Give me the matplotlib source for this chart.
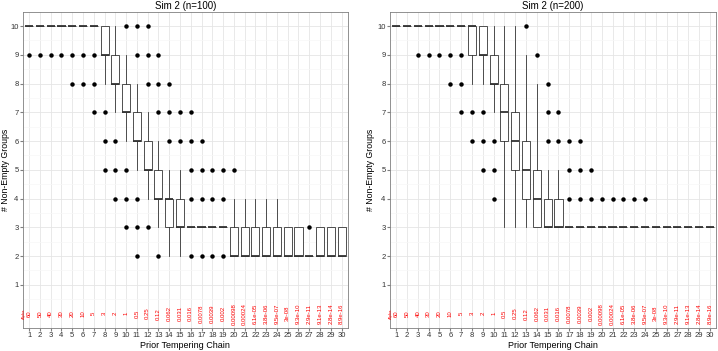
import matplotlib.pyplot as plt
import numpy as np

plt.rcParams['font.family'] = ['Liberation Sans', 'DejaVu Sans']

# chains on the x axis and the prior alpha printed under each of them
chains = list(range(1, 31))
alpha_labels = ['60', '50', '40', '30', '20', '10', '5', '3', '2', '1', '0.5',
                '0.25', '0.12', '0.062', '0.031', '0.016', '0.0078', '0.0039',
                '0.002', '0.00098', '0.00024', '6.1e-05', '3.8e-06', '9.5e-07',
                '3e-08', '9.3e-10', '2.9e-11', '9.1e-13', '2.8e-14', '8.9e-16']

# Sim 2 (n=100): box statistics per chain
q1_100 = [10, 10, 10, 10, 10, 10, 10, 9, 8, 7, 6, 5, 4, 3, 3,
          3, 3, 3, 3, 2, 2, 2, 2, 2, 2, 2, 2, 2, 2, 2]
med_100 = [10, 10, 10, 10, 10, 10, 10, 9, 8, 7, 6, 5, 4, 4, 3,
           3, 3, 3, 3, 2, 2, 2, 2, 2, 2, 2, 2, 2, 2, 2]
q3_100 = [10, 10, 10, 10, 10, 10, 10, 10, 9, 8, 7, 6, 5, 4, 4,
          3, 3, 3, 3, 3, 3, 3, 3, 3, 3, 3, 2, 3, 3, 3]
lo_100 = [10, 10, 10, 10, 10, 10, 10, 8, 7, 6, 5, 4, 3, 2, 2,
          3, 3, 3, 3, 2, 2, 2, 2, 2, 2, 2, 2, 2, 2, 2]
hi_100 = [10, 10, 10, 10, 10, 10, 10, 10, 10, 9, 8, 7, 6, 5, 5,
          3, 3, 3, 3, 4, 4, 4, 4, 4, 3, 3, 2, 3, 3, 3]
out_100 = [[9], [9], [9], [9], [9, 8], [9, 8], [9, 8, 7], [7, 6, 5],
           [6, 5, 4], [10, 5, 4, 3], [10, 9, 4, 3, 2], [10, 9, 8, 3],
           [9, 8, 7, 2], [8, 7, 6], [7, 6], [7, 6, 5, 4, 2], [6, 5, 4, 2],
           [5, 4, 2], [5, 4, 2], [5], [], [], [], [], [], [], [3], [], [], []]

# Sim 2 (n=200)
q1_200 = [10, 10, 10, 10, 10, 10, 10, 9, 9, 8, 6, 5, 4, 3, 3,
          3, 3, 3, 3, 3, 3, 3, 3, 3, 3, 3, 3, 3, 3, 3]
med_200 = [10, 10, 10, 10, 10, 10, 10, 10, 9, 8, 7, 6, 5, 4, 3,
           3, 3, 3, 3, 3, 3, 3, 3, 3, 3, 3, 3, 3, 3, 3]
q3_200 = [10, 10, 10, 10, 10, 10, 10, 10, 10, 9, 8, 7, 6, 5, 4,
          4, 3, 3, 3, 3, 3, 3, 3, 3, 3, 3, 3, 3, 3, 3]
lo_200 = [10, 10, 10, 10, 10, 10, 10, 8, 8, 7, 3, 3, 3, 3, 3,
          3, 3, 3, 3, 3, 3, 3, 3, 3, 3, 3, 3, 3, 3, 3]
hi_200 = [10, 10, 10, 10, 10, 10, 10, 10, 10, 10, 10, 10, 9, 8, 5,
          5, 3, 3, 3, 3, 3, 3, 3, 3, 3, 3, 3, 3, 3, 3]
out_200 = [[], [], [9], [9], [9], [9, 8], [9, 8, 7], [7, 6], [7, 6, 5],
           [6, 5, 4], [], [], [10], [9], [8, 7, 6], [7, 6], [6, 5, 4],
           [6, 5, 4], [5, 4], [4], [4], [4], [4], [4], [], [], [], [], [], []]

panels = [('Sim 2 (n=100)', q1_100, med_100, q3_100, lo_100, hi_100, out_100),
          ('Sim 2 (n=200)', q1_200, med_200, q3_200, lo_200, hi_200, out_200)]

fig = plt.figure(figsize=(7.18, 3.51), dpi=100)
rects = [[0.0316, 0.0655, 0.4531, 0.9012], [0.5428, 0.0655, 0.4549, 0.9012]]
ylab_x = [-0.038, -0.045]

for rect, lx, (title, q1, med, q3, lo, hi, out) in zip(rects, ylab_x, panels):
    ax = fig.add_axes(rect)
    stats = []
    for i in range(len(chains)):
        stats.append(dict(q1=q1[i], med=med[i], q3=q3[i], whislo=lo[i],
                          whishi=hi[i], fliers=out[i]))
    ax.bxp(stats, positions=chains, widths=0.75, showcaps=False,
           patch_artist=True,
           boxprops=dict(facecolor='white', edgecolor='#333333', linewidth=0.6),
           whiskerprops=dict(color='#333333', linewidth=0.6),
           medianprops=dict(color='#333333', linewidth=1.3),
           flierprops=dict(marker='o', markersize=2.2, markerfacecolor='black',
                           markeredgecolor='black'),
           zorder=3)

    # alpha values written under the boxes
    for c, lab in zip(chains, alpha_labels):
        ax.text(c, 0, lab, rotation=90, ha='center', va='center',
                color='red', fontsize=4.3)
    ax.text(0.55, 0, 'Alpha', rotation=90, ha='center', va='center',
            color='red', fontsize=3)

    ax.set_xlim(0.4, 30.6)
    ax.set_ylim(-0.5, 10.5)
    ax.set_xticks(chains)
    ax.set_xticklabels([str(c) for c in chains])
    ax.set_yticks(range(1, 11))
    ax.set_yticks(np.arange(0.5, 10.5, 1), minor=True)
    ax.grid(True, which='major', color='#e5e5e5', linewidth=0.6, zorder=0)
    ax.grid(True, which='minor', axis='y', color='#f7f7f7', linewidth=0.5, zorder=0)
    ax.set_axisbelow(True)
    ax.tick_params(which='major', length=2, color='#7f7f7f', labelsize=5.5,
                   pad=1, labelcolor='#333333')
    ax.tick_params(which='minor', length=0)
    for s in ax.spines.values():
        s.set_color('#7f7f7f')
        s.set_linewidth(0.6)
    ax.set_title(title, fontsize=7, pad=2)
    ax.set_xlabel('Prior Tempering Chain', fontsize=6.5, labelpad=1)
    ax.set_ylabel('# Non-Empty Groups', fontsize=6.3)
    ax.yaxis.set_label_coords(lx, 0.5)

fig.savefig('out.png', dpi=100)
